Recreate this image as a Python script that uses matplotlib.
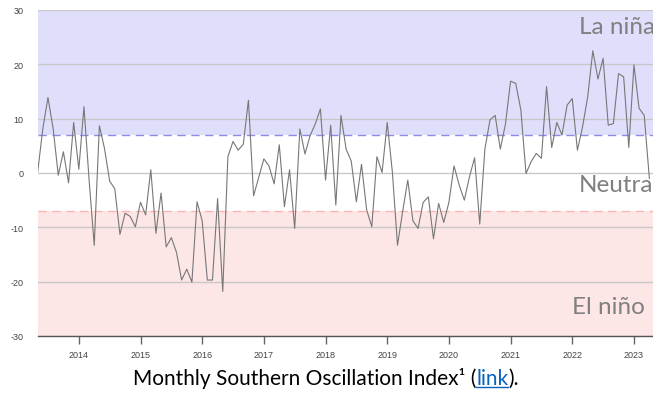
import matplotlib
matplotlib.use("Agg")
import matplotlib.pyplot as plt

# Monthly SOI, April 2013 .. March 2023
soi_2013 = [0.2, 8.2, 13.9, 8.2, -0.4, 3.9, -1.8, 9.3, 0.7]
soi_2014 = [12.2, -1.3, -13.3, 8.7, 4.5, -1.5, -2.9, -11.3, -7.4, -8.0, -9.9, -5.4]
soi_2015 = [-7.7, 0.6, -11.1, -3.7, -13.6, -11.9, -14.6, -19.7, -17.7, -20.1, -5.3, -8.8]
soi_2016 = [-19.7, -19.7, -4.7, -21.8, 3.0, 5.8, 4.2, 5.3, 13.4, -4.2, -0.8, 2.6]
soi_2017 = [1.3, -2.0, 5.2, -6.2, 0.6, -10.2, 8.1, 3.5, 6.9, 9.0, 11.8, -1.3]
soi_2018 = [8.8, -5.9, 10.6, 4.4, 2.2, -5.3, 1.6, -6.8, -9.9, 3.0, 0.1, 9.3]
soi_2019 = [0.2, -13.3, -7.1, -1.3, -8.8, -10.2, -5.4, -4.4, -12.1, -5.6, -9.1, -5.4]
soi_2020 = [1.3, -2.2, -5.0, -0.7, 2.8, -9.4, 4.4, 9.8, 10.6, 4.4, 9.0, 16.9]
soi_2021 = [16.5, 11.6, -0.1, 2.1, 3.6, 2.7, 15.9, 4.7, 9.3, 7.0, 12.5, 13.7]
soi_2022 = [4.2, 8.5, 14.0, 22.5, 17.3, 21.1, 8.8, 9.1, 18.3, 17.7, 4.7, 19.9]
soi_2023 = [11.9, 10.6, -1.0]

years = [2014, 2015, 2016, 2017, 2018, 2019, 2020, 2021, 2022, 2023]
la_nina_threshold = 7
el_nino_threshold = -7
y_ticks = [-30, -20, -10, 0, 10, 20, 30]

soi = (soi_2013 + soi_2014 + soi_2015 + soi_2016 + soi_2017 + soi_2018 +
       soi_2019 + soi_2020 + soi_2021 + soi_2022 + soi_2023)
months = list(range(len(soi)))
year_pos = [8 + 12 * i for i in range(len(years))]

W, H = 653, 402
fig = plt.figure(figsize=(W / 100, H / 100), dpi=100)
ax = fig.add_axes([37.7 / W, (H - 337) / H, 1 - 37.7 / W, (337 - 11) / H])

ax.axhspan(la_nina_threshold, 30, color="#dfdffc", zorder=0, lw=0)
ax.axhspan(-30, el_nino_threshold, color="#fde6e6", zorder=0, lw=0)
for yv in y_ticks:
    ax.axhline(yv, color="#c8c8c8", lw=1.0, zorder=1)
ax.axhline(la_nina_threshold, color="#8c8ce6", lw=1.0, ls=(0, (6, 4)), zorder=2)
ax.axhline(el_nino_threshold, color="#ffb4b4", lw=1.0, ls=(0, (6, 4)), zorder=2)

ax.plot(months, soi, color="#777777", lw=0.8, zorder=3)

ax.set_xlim(0, (653 - 37.7) / 5.14)
ax.set_ylim(-30, 30)
ax.set_yticks(y_ticks)
ax.set_yticklabels([str(v) for v in y_ticks], fontsize=6.5, color="#444444",
                   family="Liberation Sans")
ax.tick_params(axis="y", length=0, pad=10)
ax.set_xticks(year_pos)
ax.set_xticklabels([str(y) for y in years], fontsize=6.5, color="#444444",
                   family="Liberation Sans")
ax.tick_params(axis="x", length=6, width=1, color="#666666", pad=4)
for s in ["top", "right", "left"]:
    ax.spines[s].set_visible(False)
ax.spines["bottom"].set_color("#555555")
ax.spines["bottom"].set_linewidth(1.0)
ax.spines["bottom"].set_zorder(4)

lab = dict(ha="right", va="center", color="#808080", fontsize=17.5, family="Lato",
           transform=fig.transFigure)
fig.text(655 / W, 1 - 27 / H, "La niña", **lab)
fig.text(659 / W, 1 - 186 / H, "Neutral", **lab)
fig.text(645 / W, 1 - 308 / H, "El niño", **lab)

cap_y = 1 - 379 / H
cap_fs = 15
t1 = fig.text(0, cap_y, "Monthly Southern Oscillation Index¹ (", fontsize=cap_fs,
              family="Lato", color="black", va="center", ha="left")
t2 = fig.text(0, cap_y, "link", fontsize=cap_fs, family="Lato", color="#0563c1",
              va="center", ha="left")
t3 = fig.text(0, cap_y, ").", fontsize=cap_fs, family="Lato", color="black",
              va="center", ha="left")
fig.canvas.draw()
r = fig.canvas.get_renderer()
w1 = t1.get_window_extent(r).width
w2 = t2.get_window_extent(r).width
w3 = t3.get_window_extent(r).width
total = w1 + w2 + w3
x0 = 133
t1.set_x(x0 / W)
t2.set_x((x0 + w1) / W)
t3.set_x((x0 + w1 + w2) / W)
bb = t2.get_window_extent(r)
fig.add_artist(plt.Line2D([(x0 + w1) / W, (x0 + w1 + w2) / W],
                          [(bb.y0 + 1) / H, (bb.y0 + 1) / H],
                          color="#0563c1", lw=1.0, transform=fig.transFigure))

fig.savefig("out.png", dpi=100)
